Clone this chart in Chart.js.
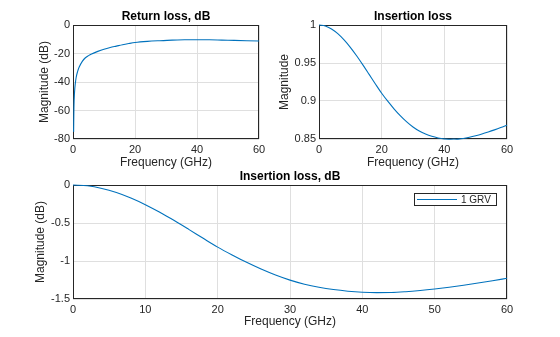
<!DOCTYPE html>
<html>
<head>
<meta charset="utf-8">
<script src="https://cdn.jsdelivr.net/npm/chart.js@4.4.1/dist/chart.umd.min.js"></script>
<style>
  html, body { margin: 0; padding: 0; background: #ffffff; }
  #wrap { position: relative; width: 560px; height: 337px; background: #ffffff; }
  #wrap canvas { position: absolute; left: 0; top: 0; }
</style>
</head>
<body>
<div id="wrap">
  <canvas id="c1" width="560" height="337"></canvas>
  <canvas id="c2" width="560" height="337"></canvas>
  <canvas id="c3" width="560" height="337"></canvas>
</div>
<script>
// ---------------- data ----------------
const freqRL = [0.2, 0.3, 0.5, 0.75, 1, 1.5, 2, 3, 4, 5, 6, 8, 10, 12, 14, 16, 18, 20, 24, 28, 32, 36, 40, 44, 48, 52, 56, 60];
const returnLossDb = [-75, -58, -47, -41, -37, -32.5, -29.5, -25.5, -23, -21.5, -20.3, -18.5, -17, -15.8, -14.8, -13.8, -13, -12.3, -11.5, -11, -10.6, -10.4, -10.3, -10.4, -10.6, -10.8, -11, -11.2];

const freqIL = [0, 2, 4, 6, 8, 10, 12, 14, 16, 18, 20, 22, 24, 26, 28, 30, 32, 34, 36, 38, 40, 42, 44, 46, 48, 50, 52, 54, 56, 58, 60];
const insertionMag = [1.0000, 0.9988, 0.9948, 0.9886, 0.9804, 0.9706, 0.9595, 0.9475, 0.9350, 0.9224, 0.9102, 0.8994, 0.8894, 0.8804, 0.8725, 0.8658, 0.8605, 0.8565, 0.8535, 0.8514, 0.8501, 0.8496, 0.8497, 0.8507, 0.8523, 0.8543, 0.8566, 0.8592, 0.8620, 0.8650, 0.8682];
const insertionDb = [0, -0.0104, -0.0453, -0.0996, -0.1719, -0.2591, -0.3591, -0.4684, -0.5838, -0.7016, -0.8173, -0.9209, -1.0180, -1.1064, -1.1847, -1.2516, -1.3050, -1.3455, -1.3759, -1.3973, -1.4106, -1.4157, -1.4147, -1.4045, -1.3881, -1.3678, -1.3444, -1.3181, -1.2899, -1.2597, -1.2276];

const seriesLabel = '1 GRV';
const titles = ['Return loss, dB', 'Insertion loss', 'Insertion loss, dB'];
const xTitle = 'Frequency (GHz)';
const yTitles = ['Magnitude (dB)', 'Magnitude', 'Magnitude (dB)'];

// ---------------- styling ----------------
const FONT = '"Liberation Sans", Arial, Helvetica, sans-serif';
const LINE = '#0072BD';
const AXIS = '#262626';
const GRID = '#dfdfdf';

const boxPlugin = {
  id: 'boxPlugin',
  beforeDatasetsDraw(chart) {
    const a = chart.chartArea, ctx = chart.ctx;
    ctx.save();
    ctx.strokeStyle = AXIS;
    ctx.lineWidth = 1;
    ctx.strokeRect(Math.round(a.left) + 0.5, Math.round(a.top) + 0.5,
                   Math.round(a.right - a.left) - 1, Math.round(a.bottom - a.top) - 1);
    ctx.restore();
  }
};

const legendPlugin = {
  id: 'boxLegend',
  afterDatasetsDraw(chart, args, opts) {
    if (!opts || !opts.show) return;
    const a = chart.chartArea, ctx = chart.ctx;
    const ds = chart.data.datasets[0];
    const w = 82, h = 12;
    const x0 = a.right - 11 - w, y0 = a.top + 8;
    ctx.save();
    ctx.fillStyle = '#ffffff';
    ctx.fillRect(x0, y0, w, h);
    ctx.strokeStyle = AXIS;
    ctx.lineWidth = 1;
    ctx.strokeRect(x0 + 0.5, y0 + 0.5, w, h);
    ctx.strokeStyle = ds.borderColor;
    ctx.beginPath();
    ctx.moveTo(x0 + 3, y0 + 6.5);
    ctx.lineTo(x0 + 43, y0 + 6.5);
    ctx.stroke();
    ctx.fillStyle = AXIS;
    ctx.font = '10px ' + FONT;
    ctx.textBaseline = 'middle';
    ctx.textAlign = 'left';
    ctx.fillText(ds.label, x0 + 47, y0 + 7);
    ctx.restore();
  }
};

function fmt(v) { return String(Math.round(v * 1000) / 1000); }

function makeChart(id, cfg) {
  const data = cfg.x.map((xv, i) => ({ x: xv, y: cfg.y[i] }));
  return new Chart(document.getElementById(id), {
    type: 'line',
    data: { datasets: [{ label: cfg.label, data, borderColor: LINE, borderWidth: 1.1,
      pointRadius: 0, fill: false, clip: 2, cubicInterpolationMode: 'monotone' }] },
    options: {
      responsive: false, animation: false, devicePixelRatio: 1,
      layout: { padding: { left: cfg.padLeft, top: cfg.area.top - 16, right: 560 - cfg.area.right,
                           bottom: 337 - cfg.area.bottom - cfg.xH } },
      plugins: {
        legend: { display: false },
        tooltip: { enabled: false },
        title: { display: true, text: cfg.title, fullSize: false, color: '#000000',
                 font: { family: FONT, size: 12, weight: 'bold' }, padding: { top: 0, bottom: 1.6 } },
        boxLegend: { show: !!cfg.legend }
      },
      scales: {
        x: {
          type: 'linear', min: 0, max: 60,
          afterFit(s) { s.height = cfg.xH; },
          grid: { color: GRID, drawTicks: false },
          border: { display: false },
          ticks: { stepSize: cfg.xStep, autoSkip: false, maxRotation: 0, padding: 4,
                   color: AXIS, font: { family: FONT, size: 11 } },
          title: { display: true, text: xTitle, color: AXIS, padding: 0,
                   font: { family: FONT, size: 12 } }
        },
        y: {
          type: 'linear', min: cfg.yMin, max: cfg.yMax,
          afterFit(s) { s.width = cfg.area.left - cfg.padLeft; },
          grid: { color: GRID, drawTicks: false },
          border: { display: false },
          ticks: { stepSize: cfg.yStep, autoSkip: false, padding: 3, color: AXIS,
                   font: { family: FONT, size: 11 }, callback: (v) => fmt(v) },
          title: { display: true, text: cfg.yTitle, color: AXIS, padding: 0,
                   font: { family: FONT, size: 12 } }
        }
      }
    },
    plugins: [boxPlugin, legendPlugin]
  });
}

makeChart('c1', { x: freqRL, y: returnLossDb, label: seriesLabel, title: titles[0], yTitle: yTitles[0],
  area: { left: 73, top: 25, right: 259, bottom: 139 }, padLeft: 37, xH: 31,
  xStep: 20, yMin: -80, yMax: 0, yStep: 20 });

makeChart('c2', { x: freqIL, y: insertionMag, label: seriesLabel, title: titles[1], yTitle: yTitles[1],
  area: { left: 319, top: 25, right: 507, bottom: 139 }, padLeft: 277, xH: 31,
  xStep: 20, yMin: 0.85, yMax: 1, yStep: 0.05 });

makeChart('c3', { x: freqIL, y: insertionDb, label: seriesLabel, title: titles[2], yTitle: yTitles[2],
  area: { left: 73, top: 185, right: 507, bottom: 299 }, padLeft: 33, xH: 30,
  xStep: 10, yMin: -1.5, yMax: 0, yStep: 0.5, legend: true });
</script>
</body>
</html>
